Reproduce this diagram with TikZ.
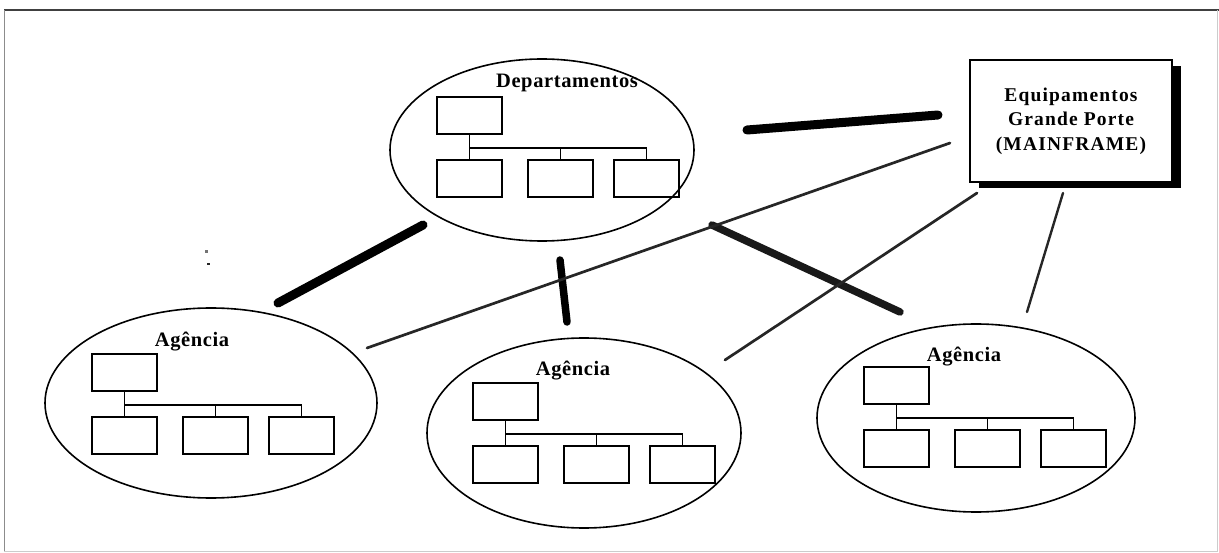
\documentclass[tikz,border=0pt]{standalone}
\usepackage{fontspec}
\setmainfont{Liberation Serif}
\usetikzlibrary{shapes.geometric,shadows}

\tikzset{
  site/.style={ellipse, draw=black, line width=1.6pt, inner sep=0pt},
  orgbox/.style={rectangle, draw=black, line width=1.5pt, minimum width=65pt,
    minimum height=37pt, inner sep=0pt},
  orgline/.style={line width=1.5pt},
  label/.style={font=\bfseries\fontsize{20.5}{24}\selectfont\addfontfeature{LetterSpace=3}, inner sep=0pt},
  hostbox/.style={rectangle, draw=black, line width=1.2pt, fill=white,
    minimum width=202pt, minimum height=122pt, align=center,
    font=\bfseries\fontsize{19.5}{24.5}\selectfont\addfontfeature{LetterSpace=6},
    general shadow={fill=black, shadow xshift=9pt, shadow yshift=-6pt}},
  heavylink/.style={line width=#1, line cap=round, draw=black},
  lightlink/.style={line width=2.7pt, line cap=round, draw=black!85},
  pics/orgchart/.style={code={
    \node[orgbox] (-top) at (32.5,18.5) {};
    \node[orgbox] (-b1) at (32.5,81.5) {};
    \node[orgbox] (-b2) at (123.5,81.5) {};
    \node[orgbox] (-b3) at (209.5,81.5) {};
    \draw[orgline] (-top.south) -- (-b1.north);
    \draw[orgline] (-b1.north |- 0,51) -- (-b3.north |- 0,51) -- (-b3.north);
    \draw[orgline] (-b2.north |- 0,51) -- (-b2.north);
  }}
}

\begin{document}
\begin{tikzpicture}[x=1pt,y=-1pt]
  \useasboundingbox (0,0) rectangle (1219,553);

  % outer frame
  \draw[black!75, line width=1.5pt] (4,10) -- (1219,10);
  \draw[black!45, line width=0.8pt] (4,10) -- (4,551);
  \draw[black!20, line width=0.8pt] (4,551) -- (1217,551) -- (1217,10);

  % sites
  \node[site, minimum width=304pt, minimum height=182pt] (dept) at (542,150) {};
  \node[site, minimum width=332pt, minimum height=190pt] (ag1) at (211,403) {};
  \node[site, minimum width=314pt, minimum height=190pt] (ag2) at (584,433) {};
  \node[site, minimum width=318pt, minimum height=188pt] (ag3) at (976,418) {};

  % titles
  \node[label] (deptlabel) at (567,83) {Departamentos};
  \node[label] (ag1label) at (192,342) {Agência};
  \node[label] (ag2label) at (573,371) {Agência};
  \node[label] (ag3label) at (964,357) {Agência};

  % organisation charts inside each site
  \pic (deptorg) at (437,97) {orgchart};
  \pic (ag1org) at (92,354) {orgchart};
  \pic (ag2org) at (473,383) {orgchart};
  \pic (ag3org) at (864,367) {orgchart};

  % central host
  \node[hostbox] (host) at (1071,121)
    {Equipamentos\\Grande Porte\\(MAINFRAME)};

  % link end points
  \coordinate (dh1) at (747,130);  \coordinate (dh2) at (938,115);
  \coordinate (da1) at (423,225);  \coordinate (da2) at (278,303);
  \coordinate (db1) at (560,260);  \coordinate (db2) at (567,322);
  \coordinate (dc1) at (712,225);  \coordinate (dc2) at (900,312);
  \coordinate (ha1) at (950,143);  \coordinate (ha2) at (367,348);
  \coordinate (hb1) at (977,193);  \coordinate (hb2) at (725,360);
  \coordinate (hc1) at (1063,193); \coordinate (hc2) at (1027,312);

  % heavy links from the departments
  \draw[heavylink=9pt] (dh1) -- (dh2);
  \draw[heavylink=9pt] (da1) -- (da2);
  \draw[heavylink=7.5pt] (db1) -- (db2);
  \draw[heavylink=7.5pt, draw=black!90] (dc1) -- (dc2);

  % light links from the host
  \draw[lightlink] (ha1) -- (ha2);
  \draw[lightlink] (hb1) -- (hb2);
  \draw[lightlink, line width=2.4pt] (hc1) -- (hc2);

  % two small specks
  \fill[black!55] (205,250) rectangle (208,253);
  \fill[black!85] (207,263) rectangle (210,265);
\end{tikzpicture}
\end{document}
